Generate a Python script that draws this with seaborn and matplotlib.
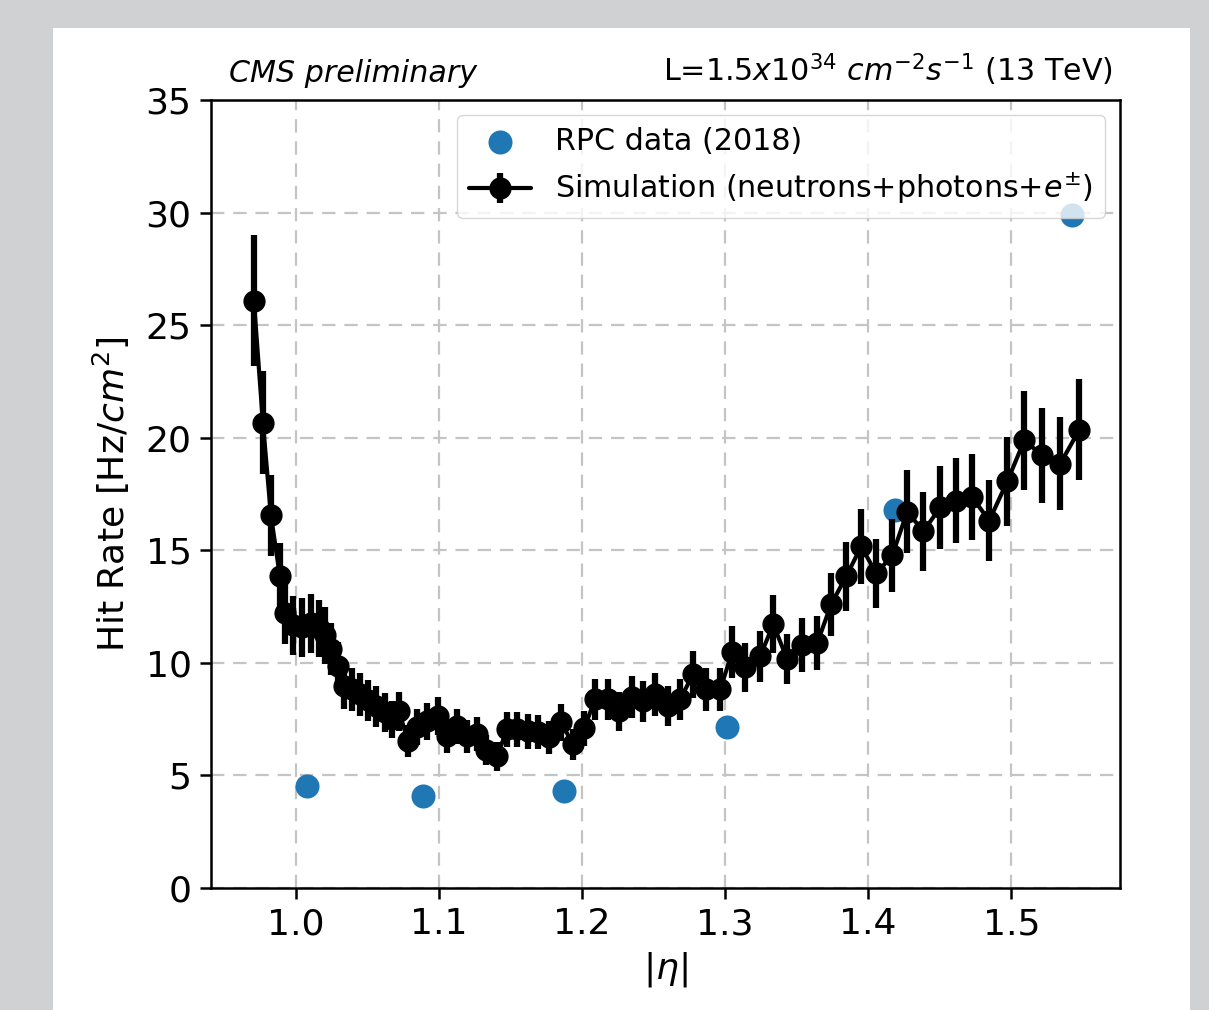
import matplotlib
matplotlib.use("Agg")
import matplotlib.pyplot as plt
import seaborn as sns
from matplotlib.patches import Rectangle

# ==================================================
# DATA
# ==================================================

rpc_eta = [1.0075, 1.0886, 1.1871, 1.3012, 1.4189, 1.5424]
rpc_rate = [4.53, 4.09, 4.31, 7.17, 16.80, 29.90]

sim_eta = [
    0.9706, 0.9769, 0.9825, 0.9888, 0.9923, 0.9979, 1.0042, 1.0105,
    1.0161, 1.0203, 1.0245, 1.0294, 1.0336, 1.0392, 1.0448, 1.0503,
    1.0559, 1.0622, 1.0671, 1.0720, 1.0783, 1.0846, 1.0916, 1.0993,
    1.1056, 1.1126, 1.1196, 1.1266, 1.1329, 1.1406, 1.1476, 1.1545,
    1.1622, 1.1692, 1.1769, 1.1853, 1.1937, 1.2014, 1.2091, 1.2182,
    1.2259, 1.2350, 1.2427, 1.2510, 1.2601, 1.2685, 1.2776, 1.2867,
    1.2965, 1.3049, 1.3140, 1.3245, 1.3336, 1.3434, 1.3538, 1.3643,
    1.3741, 1.3846, 1.3951, 1.4056, 1.4168, 1.4273, 1.4385, 1.4503,
    1.4615, 1.4727, 1.4846, 1.4972, 1.5091, 1.5217, 1.5343, 1.5476,
]

sim_rate = [
    26.09, 20.67, 16.55, 13.84, 12.20, 11.66, 11.58, 11.75,
    11.53, 11.22, 10.60, 9.84, 8.96, 8.82, 8.60, 8.34,
    8.07, 7.80, 7.49, 7.85, 6.52, 7.14, 7.40, 7.63,
    6.74, 7.18, 6.74, 6.83, 6.12, 5.85, 7.05, 7.05,
    6.96, 6.92, 6.69, 7.36, 6.38, 7.09, 8.38, 8.38,
    7.85, 8.47, 8.29, 8.60, 8.07, 8.38, 9.49, 8.82,
    8.82, 10.47, 9.80, 10.29, 11.71, 10.16, 10.78, 10.87,
    12.60, 13.84, 15.17, 13.97, 14.77, 16.72, 15.84, 16.90,
    17.21, 17.35, 16.32, 18.06, 19.88, 19.21, 18.85, 20.36,
]

sim_err = [
    2.90, 2.30, 1.80, 1.50, 1.35, 1.30, 1.30, 1.30,
    1.25, 1.25, 1.15, 1.10, 1.00, 0.97, 0.95, 0.92,
    0.90, 0.86, 0.83, 0.86, 0.72, 0.79, 0.81, 0.84,
    0.74, 0.79, 0.74, 0.75, 0.67, 0.64, 0.78, 0.78,
    0.77, 0.76, 0.74, 0.81, 0.70, 0.78, 0.92, 0.92,
    0.86, 0.93, 0.91, 0.95, 0.89, 0.92, 1.04, 0.97,
    0.97, 1.15, 1.08, 1.13, 1.29, 1.12, 1.19, 1.20,
    1.39, 1.52, 1.67, 1.54, 1.62, 1.84, 1.74, 1.86,
    1.89, 1.91, 1.80, 1.99, 2.19, 2.11, 2.07, 2.24,
]

# ==================================================
# STYLE
# ==================================================

sns.set_style("ticks")
plt.rcParams["font.family"] = ["DejaVu Sans"]
plt.rcParams["mathtext.fontset"] = "dejavusans"
plt.rcParams["text.color"] = "black"
plt.rcParams["axes.labelcolor"] = "black"
plt.rcParams["xtick.color"] = "black"
plt.rcParams["ytick.color"] = "black"

fig = plt.figure(figsize=(12.09, 10.10), dpi=100, facecolor="#d0d1d3")
fig.patches.append(
    Rectangle((0.0438, 0.0), 0.9405, 0.9723,
              transform=fig.transFigure, facecolor="white",
              edgecolor="none", zorder=-1)
)

ax = fig.add_axes([0.1745, 0.1208, 0.7519, 0.7802])
ax.set_facecolor("white")

# ==================================================
# PLOT
# ==================================================

sns.scatterplot(
    x=rpc_eta,
    y=rpc_rate,
    color="#1f77b4",
    s=300,
    linewidth=0,
    label="RPC data (2018)",
    ax=ax,
    zorder=2
)

ax.errorbar(
    sim_eta,
    sim_rate,
    yerr=sim_err,
    fmt="o-",
    color="black",
    markersize=15,
    linewidth=3,
    elinewidth=4.5,
    label="Simulation (neutrons+photons+$e^{\\pm}$)",
    zorder=3
)

ax.set_xlim(0.9406, 1.576)
ax.set_ylim(0, 35)
ax.set_xticks([1.0, 1.1, 1.2, 1.3, 1.4, 1.5])
ax.set_yticks([0, 5, 10, 15, 20, 25, 30, 35])

ax.grid(True, linestyle=(0, (6, 4)), linewidth=1.6, color="#c4c4c4")
ax.set_axisbelow(True)

for sp in ax.spines.values():
    sp.set_color("black")
    sp.set_linewidth(1.8)
    sp.set_visible(True)

ax.tick_params(axis="both", labelsize=26, length=8, width=1.8, pad=6,
               direction="out")

ax.set_xlabel("$|\\eta|$", fontsize=26, labelpad=6)
ax.set_ylabel("Hit Rate [Hz/$cm^2$]", fontsize=26, labelpad=10)

ax.text(0.0198, 1.015, "CMS preliminary", transform=ax.transAxes,
        fontsize=21.7, style="italic", ha="left", va="bottom")
ax.text(0.9923, 1.015, "L=1.5$x10^{34}$ $cm^{-2}s^{-1}$ (13 TeV)",
        transform=ax.transAxes, fontsize=21.7, ha="right", va="bottom")

ax.legend(
    loc="upper right",
    fontsize=21.7,
    scatterpoints=1,
    frameon=True,
    framealpha=0.8,
    edgecolor="#cccccc",
    handlelength=2.05,
    borderaxespad=0.5
)

fig.savefig("out.png", dpi=100, facecolor=fig.get_facecolor())
plt.close(fig)
